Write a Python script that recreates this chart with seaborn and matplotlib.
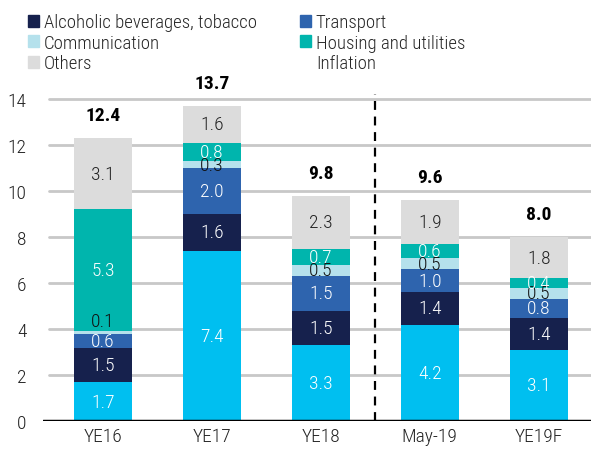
import matplotlib
matplotlib.use("Agg")
import matplotlib.pyplot as plt
from matplotlib.patches import Patch
from matplotlib.lines import Line2D
import seaborn as sns
import numpy as np
import pandas as pd

categories = ["YE16", "YE17", "YE18", "May-19", "YE19F"]
food = [1.7, 7.4, 3.3, 4.2, 3.1]
alcohol = [1.5, 1.6, 1.5, 1.4, 1.4]
transport = [0.6, 2.0, 1.5, 1.0, 0.8]
communication = [0.1, 0.3, 0.5, 0.5, 0.5]
housing = [5.3, 0.8, 0.7, 0.6, 0.4]
others = [3.1, 1.6, 2.3, 1.9, 1.8]
totals = ["12.4", "13.7", "9.8", "9.6", "8.0"]

series_names = ["Food", "Alcoholic beverages, tobacco", "Transport",
                "Communication", "Housing and utilities", "Others"]
series_vals = [food, alcohol, transport, communication, housing, others]
colors = ["#00BFF0", "#16214D", "#2E64AE", "#B5E1EC", "#00B5AD", "#DCDCDC"]
label_colors = ["white", "white", "white", "#111111", "white", "#222222"]

sns.set_style("white")
plt.rcParams["font.family"] = ["Roboto Condensed", "DejaVu Sans"]
plt.rcParams["font.weight"] = 300

fig = plt.figure(figsize=(5.91, 4.52), dpi=100)
ax = fig.add_axes([0.073, 0.066, 0.927, 0.723])

df = pd.DataFrame({"cat": categories})
cum = np.zeros(len(categories))
cums = []
for vals in series_vals:
    cum = cum + np.array(vals)
    cums.append(cum.copy())

# draw stacked bars: tallest cumulative first
for i in range(len(series_vals) - 1, -1, -1):
    d = df.copy()
    d["v"] = cums[i]
    sns.barplot(data=d, x="cat", y="v", color=colors[i], width=0.53,
                saturation=1, ax=ax, zorder=3, linewidth=0)

for i, vals in enumerate(series_vals):
    base = cums[i] - np.array(vals)
    for j, v in enumerate(vals):
        y = base[j] + v / 2
        if v < 0.2:
            y += 0.5
        ax.text(j, y, f"{v:.1f}", ha="center", va="center",
                color=label_colors[i], fontsize=14, fontweight=300, zorder=5)

for j, t in enumerate(totals):
    ax.text(j, cums[-1][j] + 1.0, t, ha="center", va="center",
            fontsize=14, fontweight=600, color="black", zorder=5)

ax.set_ylim(0, 14.2)
ax.set_xlim(-0.55, 4.48)
ax.set_yticks(range(0, 15, 2))
for yv in range(2, 15, 2):
    ax.axhline(yv, xmin=0.01, color="#C8C8C8", lw=2, zorder=1)
ax.axvline(2.5, color="black", lw=1.6, ls=(0, (4, 3)), zorder=4)
ax.axhline(0, color="black", lw=2.5, zorder=6)

for s in ax.spines.values():
    s.set_visible(False)
ax.set_xlabel("")
ax.set_ylabel("")
ax.tick_params(axis="both", length=0, labelsize=14, colors="#222222")
ax.tick_params(axis="y", pad=12)
ax.tick_params(axis="x", pad=4)
for lab in ax.get_xticklabels() + ax.get_yticklabels():
    lab.set_fontweight(300)

handles = [Patch(color=colors[1]), Patch(color=colors[3]), Patch(color=colors[5]),
           Patch(color=colors[2]), Patch(color=colors[4]),
           Line2D([], [], color="none")]
labels = ["Alcoholic beverages, tobacco", "Communication", "Others",
          "Transport", "Housing and utilities", "Inflation"]
fig.legend(handles, labels, ncol=2, loc="upper left", bbox_to_anchor=(0.025, 0.997),
           frameon=False, prop={"size": 13.5, "weight": 300},
           handlelength=0.6, handleheight=0.6,
           handletextpad=0.25, labelspacing=0.13, columnspacing=2.3,
           borderaxespad=0.3)

fig.savefig("out.png", dpi=100)
